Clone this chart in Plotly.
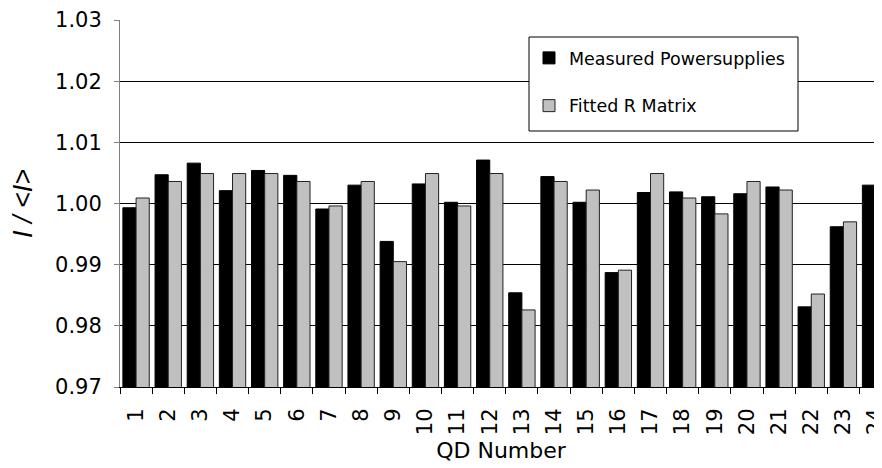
import plotly.graph_objects as go

qd_numbers = [str(i) for i in range(1, 25)]
measured = [0.9993, 1.0047, 1.0066, 1.0021, 1.0054, 1.0046, 0.9991, 1.0030,
            0.9938, 1.0032, 1.0002, 1.0071, 0.9854, 1.0044, 1.0002, 0.9887,
            1.0018, 1.0019, 1.0011, 1.0016, 1.0027, 0.9831, 0.9962, 1.0030]
fitted = [1.0009, 1.0036, 1.0049, 1.0049, 1.0049, 1.0036, 0.9996, 1.0036,
          0.9905, 1.0049, 0.9996, 1.0049, 0.9826, 1.0036, 1.0022, 0.9891,
          1.0049, 1.0009, 0.9983, 1.0036, 1.0022, 0.9852, 0.9970, 1.0022]
y_ticks = [0.97, 0.98, 0.99, 1.00, 1.01, 1.02, 1.03]

FONT = "DejaVu Sans, sans-serif"
TITLE_FONT = "Arial, Liberation Sans, sans-serif"

fig = go.Figure()
fig.add_trace(go.Bar(x=qd_numbers, y=measured, name="Measured Powersupplies",
                     legendgroup="a",
                     marker=dict(color="#000000", line=dict(color="#000000", width=1))))
fig.add_trace(go.Bar(x=qd_numbers, y=fitted, name="Fitted R Matrix",
                     legendgroup="b",
                     marker=dict(color="#C0C0C0", line=dict(color="#222222", width=1))))

# page body has an 8px margin, so the figure is sized to end at the window edge
W, H = 874, 460
L, T, B = 112, 12, 81
PH = H - T - B
PW = W - L

fig.update_layout(
    width=W, height=H,
    margin=dict(l=L, r=0, t=T, b=B, autoexpand=False),
    paper_bgcolor="white", plot_bgcolor="white",
    barmode="group", bargap=0.18, bargroupgap=0,
    font=dict(family=FONT, color="black", size=21),
    showlegend=True,
    legend=dict(x=(521 - L) / PW, y=(H - B - 32) / PH, xanchor="left", yanchor="top",
                bgcolor="rgba(0,0,0,0)", borderwidth=0,
                font=dict(size=17.5, family=FONT, color="black"),
                traceorder="grouped", tracegroupgap=22,
                itemwidth=30),
    shapes=[dict(type="rect", xref="paper", yref="paper",
                 x0=(521 - L) / PW, x1=(790 - L) / PW,
                 y0=(H - B - 123) / PH, y1=(H - B - 29) / PH,
                 line=dict(color="black", width=1), fillcolor="white",
                 layer="above")],
)

fig.update_xaxes(
    type="category", range=[-0.5, 23.2],
    tickangle=-90, tickfont=dict(size=21),
    ticks="outside", ticklen=6, tickson="boundaries", tickcolor="black",
    ticklabelstandoff=12,
    showline=True, linecolor="black", linewidth=1,
    showgrid=False, zeroline=False,
    title=dict(text="QD Number", font=dict(size=22), standoff=8),
)
fig.update_yaxes(
    range=[0.97, 1.03], tickvals=y_ticks, tickformat=".2f",
    tickfont=dict(size=21),
    ticks="outside", ticklen=5, tickcolor="#808080",
    ticklabelstandoff=8,
    showline=True, linecolor="#808080", linewidth=1,
    showgrid=True, gridcolor="black", gridwidth=1, zeroline=False,
    title=dict(text="<i>I / &lt;I&gt;</i>", font=dict(size=27, family=TITLE_FONT), standoff=14),
)

fig.write_html("out.html")
